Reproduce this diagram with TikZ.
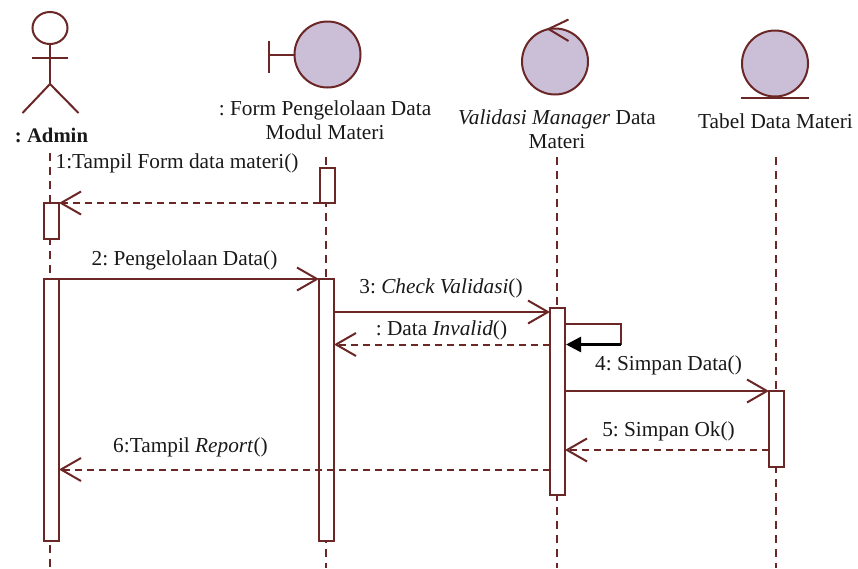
\documentclass[tikz,border=0pt]{standalone}
\usepackage{fontspec}
\setmainfont{Liberation Serif}
\usetikzlibrary{arrows.meta,shapes.geometric}
\definecolor{umlline}{HTML}{6B2626}
\definecolor{umlfill}{HTML}{CBBFD8}
\tikzset{
  ln/.style={draw=umlline,line width=2pt},
  life/.style={ln,dash pattern=on 8pt off 6pt},
  act/.style={ln,fill=white,rectangle,inner sep=0pt,outer sep=0pt,minimum width=15pt,anchor=north},
  obj/.style={ln,fill=umlfill,circle,inner sep=0pt,outer sep=0pt,minimum size=66pt},
  txt/.style={font=\fontsize{21.3}{24}\selectfont\frenchspacing,text=black!90,inner sep=0pt,anchor=base,align=center},
  open/.style={-{Straight Barb[length=20pt,width=23pt,line width=2pt,color=umlline]}},
  call/.style={ln,open},
  reply/.style={ln,open,dash pattern=on 7pt off 5pt},
}
\begin{document}
\begin{tikzpicture}[x=1pt,y=-1pt]
\useasboundingbox (0,0) rectangle (858,568);
% lifeline ends
\coordinate (l1t) at (50,153); \coordinate (l1b) at (50,568);
\coordinate (l2t) at (325.5,157); \coordinate (l2b) at (325.5,568);
\coordinate (l3t) at (557,157); \coordinate (l3b) at (557,568);
\coordinate (l4t) at (776,157); \coordinate (l4b) at (776,568);
\draw[life] (l1t) -- (l1b);
\draw[life] (l2t) -- (l2b);
\draw[life] (l3t) -- (l3b);
\draw[life] (l4t) -- (l4b);
% actor
\node[ln,ellipse,inner sep=0pt,outer sep=0pt,minimum width=35pt,minimum height=32pt] (head) at (50,28) {};
\coordinate (hip) at (50,84);
\coordinate (armL) at (32,58); \coordinate (armR) at (68,58);
\coordinate (legL) at (22.5,113); \coordinate (legR) at (78.5,113);
\draw[ln] (head.south) -- (hip);
\draw[ln] (armL) -- (armR);
\draw[ln] (legL) -- (hip) -- (legR);
\node[txt,font=\fontsize{20.7}{24}\selectfont\frenchspacing\bfseries] (admin) at (51.5,142) {: Admin};
% boundary
\node[obj] (form) at (327.5,54.5) {};
\coordinate (barT) at (268.7,41); \coordinate (barB) at (268.7,73); \coordinate (barM) at (268.7,54.5);
\draw[ln] (barT) -- (barB);
\draw[ln] (barM) -- (form.west);
\node[txt] (formt) at (325,139) {: Form Pengelolaan Data\\Modul Materi};
% control
\node[obj] (ctrl) at (555,61.5) {};
\coordinate (ctip) at (548.5,29); \coordinate (ca) at (568.5,19.5); \coordinate (cb) at (568.5,41);
\draw[ln] (ca) -- (ctip) -- (cb);
\node[txt] (ctrlt) at (557,148) {\textit{Validasi Manager} Data\\Materi};
% entity
\node[obj] (ent) at (775,63.5) {};
\coordinate (eL) at (741,97.6); \coordinate (eR) at (809,97.6);
\draw[ln] (eL) -- (eR);
\node[txt] (entt) at (775.5,128) {Tabel Data Materi};
% activations
\node[act,minimum height=36pt] (a1) at (51.5,203) {};
\node[act,minimum height=262pt] (a2) at (51.5,279) {};
\node[act,minimum height=35pt] (f1) at (327,168) {};
\node[act,minimum height=262pt] (f2) at (326.5,279) {};
\node[act,minimum height=187pt] (v1) at (557.5,308) {};
\node[act,minimum height=76pt] (t1) at (776.5,391) {};
% messages
\draw[reply] (f1.south west) -- (a1.north east);
\draw[call] (a2.north east) -- (f2.north west);
\draw[call] ([yshift=-4pt]f2.north east |- v1.north) -- ([yshift=-4pt]v1.north west);
\draw[reply] ([yshift=-36.5pt]v1.north west) -- ([yshift=-36.5pt]v1.north west -| f2.east);
\draw[ln,line join=miter] ([yshift=-16pt]v1.north east) -- ++(56,0) -- ++(0,20.5);
\draw[black,line width=2.5pt,-{Triangle[length=15pt,width=15pt]}] ([yshift=-36.5pt,xshift=56pt]v1.north east) -- ([yshift=-36.5pt,xshift=1pt]v1.north east);
\draw[call] (v1.east |- t1.north) -- (t1.north west);
\draw[reply] ([yshift=-59pt]t1.north west) -- ([yshift=-59pt]t1.north west -| v1.east);
\draw[reply] ([yshift=-161.5pt]v1.north west) -- ([yshift=-161.5pt]v1.north west -| a2.east);
% labels
\node[txt] (m1) at (177,168) {1:Tampil Form data materi()};
\node[txt] (m2) at (184.5,265) {2: Pengelolaan Data()};
\node[txt] (m3) at (441,293) {3: \textit{Check Validasi}()};
\node[txt] (m3b) at (441.5,335) {: Data \textit{Invalid}()};
\node[txt] (m4) at (668.5,370) {4: Simpan Data()};
\node[txt] (m5) at (668.5,436) {5: Simpan Ok()};
\node[txt] (m6) at (190.5,452) {6:Tampil \textit{Report}()};
\end{tikzpicture}
\end{document}
